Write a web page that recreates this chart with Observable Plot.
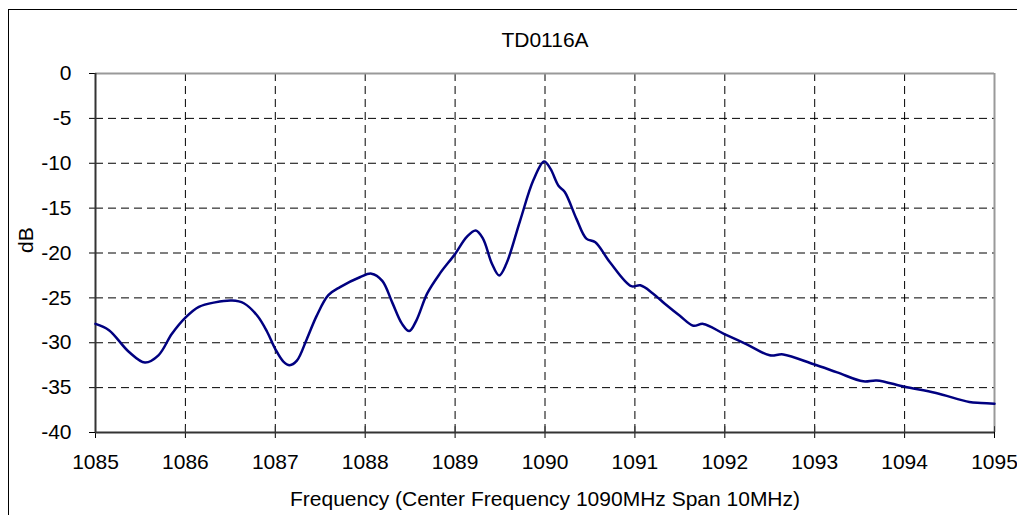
<!DOCTYPE html>
<html>
<head>
<meta charset="utf-8">
<script src="https://cdn.jsdelivr.net/npm/d3@7"></script>
<script src="https://cdn.jsdelivr.net/npm/@observablehq/plot@0.6"></script>
<style>
  html, body { margin: 0; padding: 0; background: #fff; }
  #wrap { position: relative; width: 1017px; height: 515px; overflow: hidden; }
  #border { position: absolute; left: 8px; top: 9px; width: 1020px; height: 520px;
            border-top: 1.5px solid #000; border-left: 1.5px solid #000; }
  #chart { position: absolute; left: 0; top: 0; }
</style>
</head>
<body>
<div id="wrap"><div id="border"></div><div id="chart"></div></div>
<script>
const title = "TD0116A";
const xLabel = "Frequency (Center Frequency 1090MHz Span 10MHz)";
const yLabel = "dB";

const freq = [1085.00, 1085.15, 1085.37, 1085.55, 1085.70, 1085.85, 1086.00, 1086.15, 1086.33, 1086.52,
  1086.65, 1086.80, 1086.91, 1087.00, 1087.09, 1087.16, 1087.24, 1087.35, 1087.46, 1087.59, 1087.72, 1087.94,
  1088.07, 1088.19, 1088.30, 1088.41, 1088.49, 1088.57, 1088.69, 1088.83, 1089.00, 1089.13,
  1089.23, 1089.31, 1089.41, 1089.49, 1089.57, 1089.72, 1089.87, 1089.99, 1090.06, 1090.15, 1090.22, 1090.35,
  1090.46, 1090.56, 1090.72, 1090.96, 1091.06, 1091.20, 1091.35, 1091.50, 1091.65, 1091.76, 1091.99, 1092.25,
  1092.50, 1092.65, 1092.99, 1093.25, 1093.54, 1093.69, 1094.00, 1094.35, 1094.72, 1094.85, 1095.00];
const dB = [-27.9, -28.6, -31.0, -32.2, -31.4, -29.0, -27.2, -26.0, -25.5, -25.3,
  -25.6, -27.0, -28.8, -30.7, -32.1, -32.5, -32.0, -29.6, -27.0, -24.7, -23.8, -22.7,
  -22.3, -23.1, -25.5, -27.9, -28.7, -27.5, -24.5, -22.3, -20.1, -18.2,
  -17.5, -18.4, -21.2, -22.5, -21.2, -16.5, -11.9, -9.8, -10.6, -12.5, -13.2, -16.2,
  -18.4, -18.8, -21.0, -23.7, -23.6, -24.5, -25.8, -27.0, -28.1, -27.9, -29.0, -30.2,
  -31.4, -31.3, -32.4, -33.3, -34.3, -34.2, -34.9, -35.6, -36.6, -36.7, -36.8];

const xTicks = [1085, 1086, 1087, 1088, 1089, 1090, 1091, 1092, 1093, 1094, 1095];
const yTicks = [0, -5, -10, -15, -20, -25, -30, -35, -40];
const xGrid = [1086, 1087, 1088, 1089, 1090, 1091, 1092, 1093, 1094];
const yGrid = [-5, -10, -15, -20, -25, -30, -35];

const data = freq.map((f, i) => ({f, v: dB[i]}));

const chart = Plot.plot({
  width: 1017,
  height: 515,
  marginLeft: 95,
  marginRight: 23,
  marginTop: 73,
  marginBottom: 83,
  style: {fontFamily: "'Liberation Sans', Arial, sans-serif", fontSize: "21px", color: "#000", background: "transparent"},
  x: {domain: [1085, 1095], ticks: xTicks, tickFormat: d => String(d), tickSize: 6, tickPadding: 16, label: null},
  y: {domain: [-40, 0], ticks: yTicks, tickFormat: d => String(d), tickSize: 6, tickPadding: 18, label: null},
  marks: [
    Plot.ruleX(xGrid, {stroke: "#000", strokeWidth: 1, strokeDasharray: "8,5"}),
    Plot.ruleY(yGrid, {stroke: "#000", strokeWidth: 1, strokeDasharray: "8,5"}),
    Plot.ruleY([0], {stroke: "#999", strokeWidth: 2}),
    Plot.ruleX([1095], {stroke: "#999", strokeWidth: 2}),
    Plot.ruleX([1085], {stroke: "#333", strokeWidth: 2}),
    Plot.ruleY([-40], {stroke: "#333", strokeWidth: 2}),
    Plot.ruleX(xTicks, {y1: -40, y2: -39.35, stroke: "#333", strokeWidth: 1}),
    Plot.line(data, {x: "f", y: "v", stroke: "#000080", strokeWidth: 2.5, curve: "catmull-rom"}),
    Plot.text([title], {frameAnchor: "top", dy: -41, fontSize: 21, fill: "#000"}),
    Plot.text([xLabel], {frameAnchor: "bottom", dy: 73, fontSize: 21, fill: "#000"}),
    Plot.text([yLabel], {frameAnchor: "left", dx: -69, rotate: -90, fontSize: 21, fill: "#000"})
  ]
});
document.getElementById("chart").appendChild(chart);
</script>
</body>
</html>
